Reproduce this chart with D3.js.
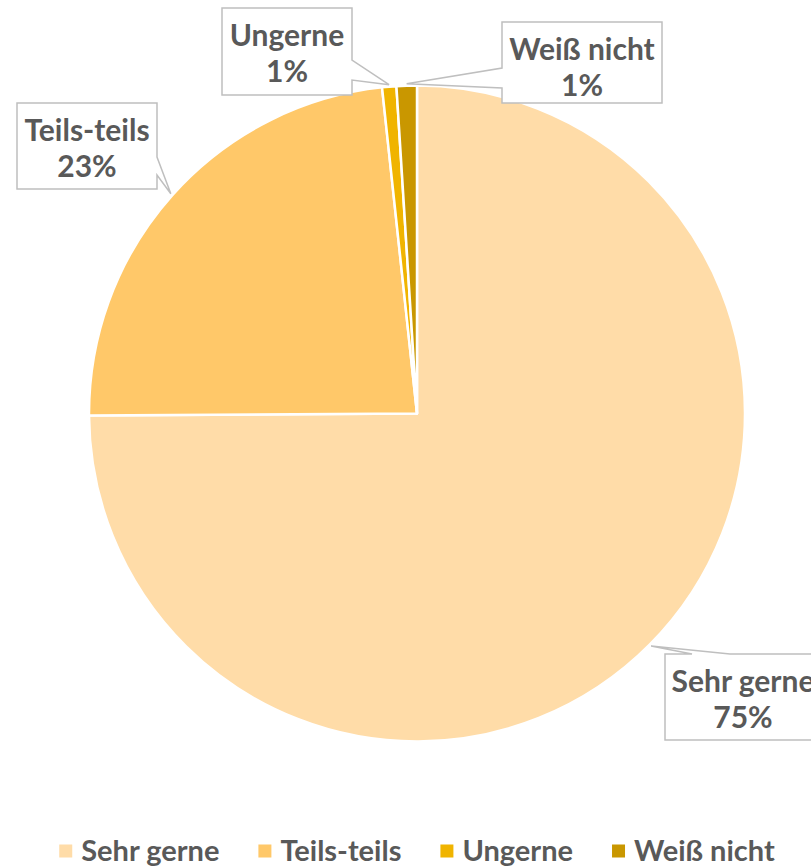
<!DOCTYPE html>
<html>
<head>
<meta charset="utf-8">
<script src="https://cdn.jsdelivr.net/npm/d3@7"></script>
<style>
  body { margin: 0; background: #fff; }
  text { font-family: Lato, "Open Sans", sans-serif; font-weight: bold; fill: #595959; }
</style>
</head>
<body>
<div class="pie-chart"></div>
<script>
// data
const categories = ['Sehr gerne', 'Teils-teils', 'Ungerne', 'Weiß nicht'];
const values = [74.9, 23.4, 0.7, 1.0];
const percentLabels = ['75%', '23%', '1%', '1%'];
const colors = ['#FFDCA8', '#FFC869', '#F0B400', '#C99700'];

const width = 811;
const height = 868;
const cx = 417, cy = 413.5, radius = 328;
const fontSize = 30;
const legendFontSize = 29;

// callout boxes (layout only): box rect, side of pointer, pointer base offsets along that side
const callouts = [
  { x: 665, y: 654, w: 156, h: 86, side: 'top', b1: 27, b2: 65 },
  { x: 17, y: 103, w: 140, h: 86, side: 'right', b1: 54, b2: 72 },
  { x: 222, y: 8, w: 130, h: 87, side: 'right', b1: 52, b2: 72 },
  { x: 502, y: 22, w: 160, h: 81, side: 'left', b1: 46, b2: 66 },
];

const svg = d3.select('.pie-chart').append('svg')
  .attr('width', width)
  .attr('height', height);

const pie = d3.pie().sort(null).value(d => d);
const arcs = pie(values);

const arc = d3.arc().innerRadius(0).outerRadius(radius);

const g = svg.append('g').attr('transform', `translate(${cx},${cy})`);

g.selectAll('path.slice')
  .data(arcs)
  .enter()
  .append('path')
  .attr('class', 'slice')
  .attr('d', arc)
  .attr('fill', (d, i) => colors[i])
  .attr('stroke', '#fff')
  .attr('stroke-width', 2.5)
  .attr('stroke-linejoin', 'round');

// callout labels
function calloutPath(c, tip) {
  const { x, y, w, h } = c;
  if (c.side === 'right') {
    return `M${x},${y}H${x + w}V${y + c.b1}L${tip[0]},${tip[1]}L${x + w},${y + c.b2}V${y + h}H${x}Z`;
  }
  if (c.side === 'left') {
    return `M${x},${y}H${x + w}V${y + h}H${x}V${y + c.b2}L${tip[0]},${tip[1]}L${x},${y + c.b1}Z`;
  }
  // top
  return `M${x},${y}H${x + c.b1}L${tip[0]},${tip[1]}L${x + c.b2},${y}H${x + w}V${y + h}H${x}Z`;
}

arcs.forEach((d, i) => {
  const c = callouts[i];
  const a = (d.startAngle + d.endAngle) / 2;
  const r = radius + 2;
  const tip = [cx + Math.sin(a) * r, cy - Math.cos(a) * r];

  svg.append('path')
    .attr('d', calloutPath(c, tip))
    .attr('fill', '#fff')
    .attr('stroke', '#BFBFBF')
    .attr('stroke-width', 1.5);

  const tx = c.x + c.w / 2;
  svg.append('text')
    .attr('x', tx)
    .attr('y', c.y + 38)
    .attr('text-anchor', 'middle')
    .style('font-size', fontSize + 'px')
    .text(categories[i]);
  svg.append('text')
    .attr('x', tx)
    .attr('y', c.y + 74)
    .attr('text-anchor', 'middle')
    .style('font-size', fontSize + 'px')
    .text(percentLabels[i]);
});

// legend
const legend = svg.append('g').attr('class', 'legend');
const legendY = 851;
const sq = 13, sqGap = 9, itemGap = 39;
const items = categories.map((name, i) => {
  const item = legend.append('g');
  item.append('rect')
    .attr('width', sq)
    .attr('height', sq)
    .attr('y', legendY - sq / 2)
    .attr('fill', colors[i]);
  const t = item.append('text')
    .attr('x', sq + sqGap)
    .attr('y', legendY)
    .attr('dy', '0.35em')
    .style('font-size', legendFontSize + 'px')
    .text(name);
  return { item, w: sq + sqGap + t.node().getComputedTextLength() };
});
const total = d3.sum(items, d => d.w) + itemGap * (items.length - 1);
let lx = 417 - total / 2;
items.forEach(d => {
  d.item.attr('transform', `translate(${lx},0)`);
  lx += d.w + itemGap;
});
</script>
</body>
</html>
